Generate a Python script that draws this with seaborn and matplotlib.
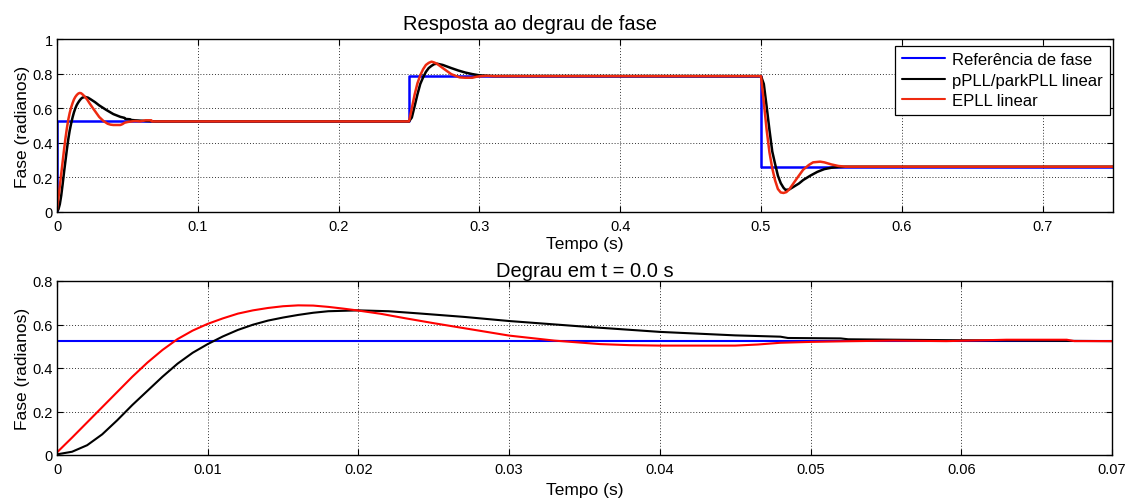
import numpy as np
import pandas as pd
import matplotlib
matplotlib.use("Agg")
import matplotlib.pyplot as plt
import seaborn as sns

# ---------------- data ----------------
# phase reference (steps)
t_ref_top = [0.0, 0.0, 0.25, 0.25, 0.50, 0.50, 0.75]
v_ref_top = [0.0, 0.5236, 0.5236, 0.7854, 0.7854, 0.2618, 0.2618]
t_ref_zoom = [0.0, 0.07]
v_ref_zoom = [0.5236, 0.5236]

# pPLL/parkPLL linear - step at t = 0
t_black_1 = [0.0, 0.001, 0.002, 0.003, 0.004, 0.005, 0.006, 0.007, 0.008, 0.009,
             0.010, 0.011, 0.012, 0.013, 0.014, 0.015, 0.016, 0.017, 0.018, 0.020, 0.022, 0.024,
             0.027, 0.030, 0.035, 0.040, 0.045, 0.048, 0.0485, 0.052, 0.0525, 0.059, 0.070, 0.25]
v_black_1 = [0.003, 0.015, 0.045, 0.095, 0.16, 0.23, 0.295, 0.36, 0.42, 0.47,
             0.51, 0.545, 0.575, 0.599, 0.618, 0.632, 0.644, 0.654, 0.661, 0.665, 0.661, 0.651,
             0.635, 0.616, 0.59, 0.566, 0.55, 0.544, 0.538, 0.536, 0.532, 0.528, 0.5236, 0.5236]
# step at t = 0.25
t_black_2 = [0.252, 0.254, 0.256, 0.258, 0.260, 0.262, 0.264, 0.266, 0.268, 0.270, 0.274,
             0.280, 0.285, 0.290, 0.295, 0.300, 0.310, 0.50]
v_black_2 = [0.546, 0.612, 0.68, 0.74, 0.778, 0.81, 0.832, 0.845, 0.855, 0.857, 0.85,
             0.832, 0.818, 0.806, 0.797, 0.79, 0.786, 0.7854]
# step at t = 0.50
t_black_3 = [0.502, 0.504, 0.506, 0.508, 0.510, 0.512, 0.514, 0.516, 0.5174, 0.520, 0.523,
             0.527, 0.530, 0.535, 0.540, 0.545, 0.550, 0.555, 0.560, 0.75]
v_black_3 = [0.74, 0.61, 0.475, 0.35, 0.278, 0.21, 0.167, 0.14, 0.128, 0.13, 0.145,
             0.165, 0.185, 0.21, 0.232, 0.248, 0.256, 0.26, 0.2618, 0.2618]

# EPLL linear - step at t = 0
t_red_1 = [0.0, 0.001, 0.002, 0.003, 0.004, 0.005, 0.006, 0.007, 0.008, 0.009,
           0.010, 0.011, 0.012, 0.013, 0.014, 0.015, 0.016, 0.017, 0.018, 0.019, 0.020, 0.0215,
           0.023, 0.025, 0.030, 0.033, 0.036, 0.038, 0.040, 0.045, 0.0465, 0.048, 0.050,
           0.0523, 0.0555, 0.059, 0.063, 0.067, 0.0675, 0.070, 0.25]
v_red_1 = [0.012, 0.08, 0.15, 0.22, 0.29, 0.36, 0.425, 0.483, 0.533, 0.572,
           0.603, 0.628, 0.65, 0.665, 0.676, 0.684, 0.688, 0.687, 0.681, 0.673, 0.664, 0.649,
           0.63, 0.606, 0.549, 0.526, 0.51, 0.505, 0.503, 0.503, 0.508, 0.516, 0.52,
           0.523, 0.526, 0.5236, 0.53, 0.53, 0.5236, 0.5236, 0.5236]
# step at t = 0.25
t_red_2 = [0.252, 0.254, 0.256, 0.258, 0.260, 0.262, 0.264, 0.266, 0.268, 0.270, 0.273,
           0.275, 0.280, 0.283, 0.286, 0.290, 0.295, 0.298, 0.300, 0.305, 0.31, 0.50]
v_red_2 = [0.599, 0.679, 0.744, 0.79, 0.825, 0.85, 0.862, 0.869, 0.864, 0.856, 0.838,
           0.826, 0.797, 0.787, 0.778, 0.776, 0.776, 0.782, 0.784, 0.787, 0.7854, 0.7854]
# step at t = 0.50
t_red_3 = [0.502, 0.504, 0.506, 0.508, 0.510, 0.512, 0.514, 0.516, 0.518, 0.520, 0.523,
           0.526, 0.530, 0.534, 0.537, 0.542, 0.545, 0.550, 0.555, 0.560, 0.75]
v_red_3 = [0.635, 0.475, 0.345, 0.252, 0.183, 0.133, 0.113, 0.11, 0.115, 0.13, 0.165,
           0.2, 0.245, 0.272, 0.287, 0.291, 0.287, 0.275, 0.266, 0.262, 0.2618]

labels = ["Referência de fase", "pPLL/parkPLL linear", "EPLL linear"]

# ---------------- frames ----------------
df_ref_top = pd.DataFrame({"t": t_ref_top, "v": v_ref_top})
df_black_top = pd.DataFrame({"t": t_black_1 + t_black_2 + t_black_3,
                             "v": v_black_1 + v_black_2 + v_black_3})
df_red_top = pd.DataFrame({"t": t_red_1 + t_red_2 + t_red_3,
                           "v": v_red_1 + v_red_2 + v_red_3})
df_ref_zoom = pd.DataFrame({"t": t_ref_zoom, "v": v_ref_zoom})
df_black_zoom = pd.DataFrame({"t": t_black_1, "v": v_black_1})
df_red_zoom = pd.DataFrame({"t": t_red_1, "v": v_red_1})

# ---------------- style ----------------
sns.set_style("white")
plt.rcParams["font.family"] = ["Liberation Sans", "DejaVu Sans"]
plt.rcParams["axes.linewidth"] = 1.0
plt.rcParams["axes.edgecolor"] = "black"
plt.rcParams["text.color"] = "black"
plt.rcParams["axes.labelcolor"] = "black"
plt.rcParams["xtick.color"] = "black"
plt.rcParams["ytick.color"] = "black"

W, H = 1129, 502
fig = plt.figure(figsize=(W / 100, H / 100), dpi=100)
ax1 = fig.add_axes([57 / W, 1 - 213 / H, (1113 - 57) / W, 173 / H])
ax2 = fig.add_axes([57 / W, 1 - 456 / H, (1112 - 57) / W, 174 / H])

blue = "#0000ff"
black = "#000000"
red_top = "#ee2a10"
red_bot = "#ff0000"

kw = dict(estimator=None, sort=False, legend=False)
sns.lineplot(data=df_ref_top, x="t", y="v", ax=ax1, color=blue, lw=1.8, label=labels[0], **kw)
sns.lineplot(data=df_black_top, x="t", y="v", ax=ax1, color=black, lw=1.8, label=labels[1], **kw)
sns.lineplot(data=df_red_top, x="t", y="v", ax=ax1, color=red_top, lw=1.8, label=labels[2], **kw)

sns.lineplot(data=df_ref_zoom, x="t", y="v", ax=ax2, color=blue, lw=1.5, **kw)
sns.lineplot(data=df_black_zoom, x="t", y="v", ax=ax2, color=black, lw=1.5, **kw)
sns.lineplot(data=df_red_zoom, x="t", y="v", ax=ax2, color=red_bot, lw=1.5, **kw)

ax1.set_xlim(0, 0.75)
ax1.set_ylim(0, 1)
ax1.set_xticks([0, 0.1, 0.2, 0.3, 0.4, 0.5, 0.6, 0.7])
ax1.set_xticklabels(["0", "0.1", "0.2", "0.3", "0.4", "0.5", "0.6", "0.7"])
ax1.set_yticks([0, 0.2, 0.4, 0.6, 0.8, 1.0])
ax1.set_yticklabels(["0", "0.2", "0.4", "0.6", "0.8", "1"])

ax2.set_xlim(0, 0.07)
ax2.set_ylim(0, 0.8)
ax2.set_xticks([0, 0.01, 0.02, 0.03, 0.04, 0.05, 0.06, 0.07])
ax2.set_xticklabels(["0", "0.01", "0.02", "0.03", "0.04", "0.05", "0.06", "0.07"])
ax2.set_yticks([0, 0.2, 0.4, 0.6, 0.8])
ax2.set_yticklabels(["0", "0.2", "0.4", "0.6", "0.8"])

for ax, lp in ((ax1, 2.5), (ax2, 4.5)):
    ax.grid(True, linestyle=(0, (1, 2)), color="#333333", linewidth=0.7)
    ax.set_axisbelow(True)
    ax.tick_params(direction="in", length=4, width=0.8, top=True, right=True,
                   bottom=True, left=True, labelsize=10.5, colors="black")
    ax.tick_params(axis="x", pad=5)
    ax.tick_params(axis="y", pad=3)
    ax.set_xlabel("Tempo (s)", fontsize=12.5, labelpad=lp)
    ax.set_ylabel("Fase (radianos)", fontsize=12.5, labelpad=2)
    for s in ax.spines.values():
        s.set_visible(True)
        s.set_color("black")
        s.set_linewidth(1.0)

ax1.set_title("Resposta ao degrau de fase", fontsize=14.5, pad=7, x=0.448)
ax2.set_title("Degrau em t = 0.0 s", fontsize=14.5, pad=3.5)

leg = ax1.legend(loc="upper right", bbox_to_anchor=(0.997, 0.962), borderaxespad=0,
                 fontsize=12, frameon=True, fancybox=False, framealpha=1,
                 handlelength=2.6, labelspacing=0.33, borderpad=0.4, handletextpad=0.45)
leg.get_frame().set_edgecolor("black")
leg.get_frame().set_linewidth(0.9)
for h in leg.get_lines():
    h.set_linewidth(1.5)

fig.savefig("out.png", dpi=100)
